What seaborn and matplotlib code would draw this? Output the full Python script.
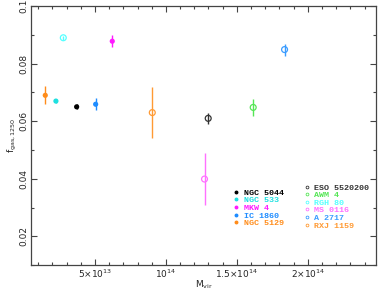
import numpy as np
import pandas as pd
import matplotlib
matplotlib.use('Agg')
import matplotlib.pyplot as plt
from matplotlib.ticker import MultipleLocator
from matplotlib.lines import Line2D
import seaborn as sns

sns.set_style('ticks')

# filled symbols (groups)
grp_names = ['NGC 5044', 'NGC 533', 'MKW 4', 'IC 1860', 'NGC 5129']
grp_mvir = [3.71e13, 2.25e13, 6.22e13, 5.05e13, 1.50e13]
grp_fgas = [0.0650, 0.0670, 0.0878, 0.0659, 0.0690]
grp_err = [0.0009, 0.0008, 0.0020, 0.0021, 0.0031]
grp_colors = ['#000000', '#1ee0e0', '#ff1aff', '#1e8cff', '#ff8c1a']

# open symbols (clusters)
cl_names = ['ESO 5520200', 'AWM 4', 'RGH 80', 'MS 0116', 'A 2717', 'RXJ 1159']
cl_mvir = [1.298e14, 1.615e14, 2.77e13, 1.272e14, 1.836e14, 9.04e13]
cl_fgas = [0.0610, 0.0648, 0.0890, 0.0399, 0.0849, 0.0630]
cl_err = [0.0020, 0.0030, 0.0007, 0.0090, 0.0021, 0.0090]
cl_colors = ['#333333', '#55e655', '#55ffff', '#ff70ff', '#3a9cff', '#ff9a33']

fig = plt.figure(figsize=(3.79, 2.91), dpi=100)
ax = fig.add_axes([0.082, 0.089, 0.910, 0.890])

grp_df = pd.DataFrame({'name': grp_names, 'mvir': grp_mvir, 'fgas': grp_fgas})
cl_df = pd.DataFrame({'name': cl_names, 'mvir': cl_mvir, 'fgas': cl_fgas})

for x, y, e, c in zip(grp_mvir, grp_fgas, grp_err, grp_colors):
    ax.errorbar(x, y, yerr=e, fmt='none', ecolor=c, elinewidth=1.0, capsize=0)
for x, y, e, c in zip(cl_mvir, cl_fgas, cl_err, cl_colors):
    ax.errorbar(x, y, yerr=e, fmt='none', ecolor=c, elinewidth=1.0, capsize=0)

sns.scatterplot(data=grp_df, x='mvir', y='fgas', hue='name', palette=grp_colors,
                s=14, marker='o', linewidth=0, legend=False, ax=ax, zorder=3)
sns.scatterplot(data=cl_df, x='mvir', y='fgas', hue='name', palette=cl_colors,
                s=18, marker='o', facecolor='white', linewidth=0.9, legend=False, ax=ax, zorder=3)
# open circles: set edge colors from palette
ax.collections[-1].set_facecolor('none')
ax.collections[-1].set_edgecolor(cl_colors)

ax.set_xlim(5e12, 2.48e14)
ax.set_ylim(0.01, 0.1)

ax.set_xticks([5e13, 1e14, 1.5e14, 2e14])
ax.set_xticklabels([r'$5{\times}10^{13}$', r'$10^{14}$', r'$1.5{\times}10^{14}$', r'$2{\times}10^{14}$'],
                   fontsize=6.5)
ax.xaxis.set_minor_locator(MultipleLocator(1e13))
ax.set_yticks([0.02, 0.04, 0.06, 0.08, 0.1])
ax.set_yticklabels(['0.02', '0.04', '0.06', '0.08', '0.1'], fontsize=6.5, rotation=90, va='center')
ax.yaxis.set_minor_locator(MultipleLocator(0.01))
ax.tick_params(which='both', direction='in', top=True, right=True, color='#444444', width=0.8, pad=2)
ax.tick_params(which='major', length=4)
ax.tick_params(which='minor', length=2)
for sp in ax.spines.values():
    sp.set_color('#444444')
    sp.set_linewidth(0.9)

ax.set_xlabel(r'$\mathregular{M_{vir}}$', fontsize=6.5, labelpad=-1)
ax.set_ylabel(r'$\mathregular{f_{gas,1250}}$', fontsize=6.5, labelpad=0)

prop = {'family': 'Liberation Mono', 'weight': 'bold', 'size': 6}
h1 = [Line2D([], [], ls='none', marker='o', ms=1.8, mfc=c, mec=c) for c in grp_colors]
leg1 = ax.legend(h1, grp_names, loc='upper left', bbox_to_anchor=(0.575, 0.31), frameon=False,
                 prop=prop, labelcolor=grp_colors, handlelength=0.6, handletextpad=0.6,
                 labelspacing=-0.03, borderpad=0)
ax.add_artist(leg1)
h2 = [Line2D([], [], ls='none', marker='o', ms=2.0, mfc='none', mec=c, mew=0.6) for c in cl_colors]
ax.legend(h2, cl_names, loc='upper left', bbox_to_anchor=(0.78, 0.33), frameon=False,
          prop=prop, labelcolor=cl_colors, handlelength=0.6, handletextpad=0.6,
          labelspacing=-0.03, borderpad=0)

fig.savefig('out.png', dpi=100)
